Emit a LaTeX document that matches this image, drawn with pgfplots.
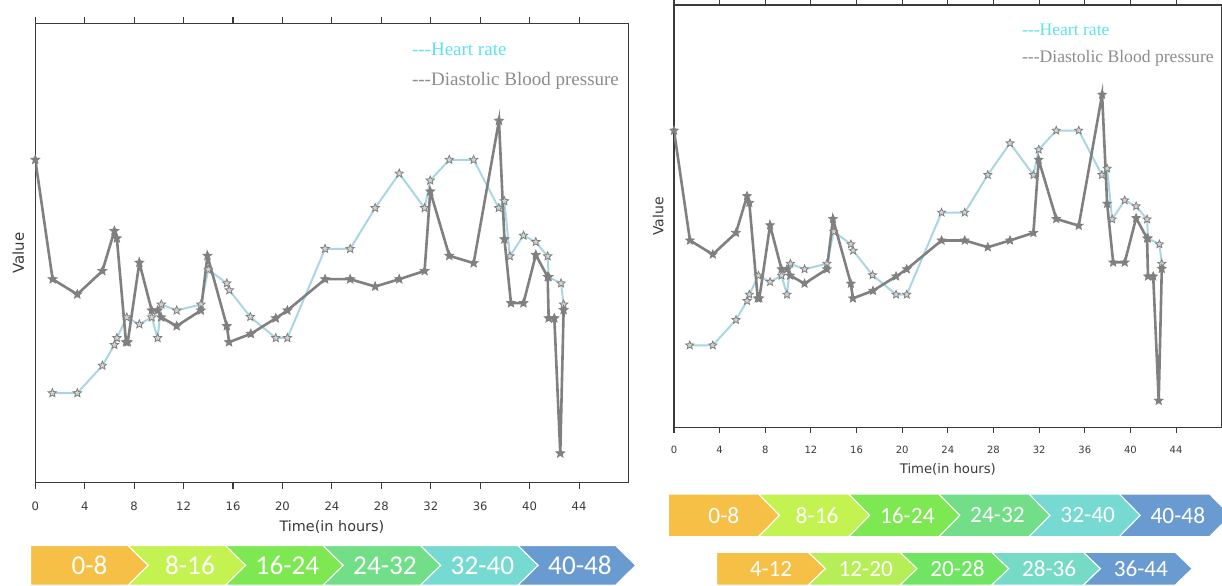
\documentclass[border=0pt]{standalone}
\usepackage{fontspec}
\setmainfont{DejaVu Sans}
\newfontfamily\timesf{Liberation Serif}
\newfontfamily\calib{Carlito}
\usepackage{pgfplots}
\usepackage{pgfplotstable}
\pgfplotsset{compat=1.18}

\definecolor{hrline}{HTML}{A9D6E2}
\definecolor{bpline}{HTML}{808080}
\definecolor{hrtext}{HTML}{5EE2EF}
\definecolor{bptext}{HTML}{8C8C8C}
\definecolor{axcol}{HTML}{3A3A3A}
\definecolor{c1}{HTML}{F6BF45}
\definecolor{c2}{HTML}{C3F251}
\definecolor{c3}{HTML}{7EE852}
\definecolor{c4}{HTML}{72DF88}
\definecolor{c5}{HTML}{76D9D2}
\definecolor{c6}{HTML}{6A9BD0}
\definecolor{d2}{HTML}{B5EE57}
\definecolor{d3}{HTML}{70E463}
\definecolor{d4}{HTML}{76DBC6}

\pgfdeclareplotmark{fstar}{%
 \pgfpathmoveto{\pgfpointpolar{90}{\pgfplotmarksize}}%
 \pgfpathlineto{\pgfpointpolar{126}{0.45\pgfplotmarksize}}%
 \pgfpathlineto{\pgfpointpolar{162}{\pgfplotmarksize}}%
 \pgfpathlineto{\pgfpointpolar{198}{0.45\pgfplotmarksize}}%
 \pgfpathlineto{\pgfpointpolar{234}{\pgfplotmarksize}}%
 \pgfpathlineto{\pgfpointpolar{270}{0.45\pgfplotmarksize}}%
 \pgfpathlineto{\pgfpointpolar{306}{\pgfplotmarksize}}%
 \pgfpathlineto{\pgfpointpolar{342}{0.45\pgfplotmarksize}}%
 \pgfpathlineto{\pgfpointpolar{18}{\pgfplotmarksize}}%
 \pgfpathlineto{\pgfpointpolar{54}{0.45\pgfplotmarksize}}%
 \pgfpathclose\pgfusepathqfillstroke}

\pgfplotstableread{
x y
1.38 19.5
3.40 19.5
5.43 25.5
6.40 30.0
6.60 31.5
7.40 36.0
8.42 34.5
9.42 36.0
9.90 31.5
10.20 38.8
11.44 37.5
13.40 38.8
14.00 46.4
15.50 43.4
15.70 41.9
17.40 36.1
19.46 31.5
20.40 31.5
23.45 50.9
25.48 50.9
27.50 59.8
29.45 67.3
31.50 59.8
31.96 65.8
33.50 70.3
35.47 70.3
37.50 59.8
37.96 61.3
38.40 49.3
39.50 53.8
40.50 52.4
41.46 49.3
41.54 44.8
42.54 43.4
42.75 38.8
}\hrdata

\pgfplotstableread{
x y
0.00 70.3
1.40 44.3
3.40 41.0
5.43 46.1
6.40 54.8
6.60 53.2
7.34 30.6
7.48 30.6
8.42 47.9
9.42 37.5
9.90 37.5
10.18 36.0
11.44 34.1
13.40 37.5
13.93 49.4
15.50 34.1
15.68 30.6
17.44 32.4
19.46 35.8
20.40 37.5
23.45 44.3
25.48 44.3
27.50 42.7
29.45 44.3
31.50 46.1
31.96 63.4
33.50 49.4
35.47 47.8
37.52 78.8
37.96 53.0
38.49 39.1
39.50 39.1
40.50 49.6
41.46 44.8
41.54 35.8
42.00 35.8
42.48 6.4
42.75 37.6
}\bpdata

\pgfplotsset{vitals/.style={
  scale only axis, anchor=south west,
  xmin=0, xmax=48, ymin=0, ymax=100,
  xtick={0,4,...,44}, ytick=\empty,
  tick align=outside, xtick pos=both, xticklabel pos=lower,
  axis line style={draw=axcol, line width=0.65pt},
  tick style={draw=axcol, line width=0.55pt},
  xticklabel style={text=axcol, inner sep=0pt, anchor=center},
  /pgf/number format/assume math mode=true,
  xlabel={Time(in hours)}, ylabel={Value},
  label style={text=axcol},
}}

\newcommand\chev[9]{%
  \pgfmathsetmacro\cm{(#4+#5)/2}%
  \pgfmathsetmacro\cR{#2+#3}%
  \pgfmathsetmacro\cN{#1+#7}%
  \filldraw[fill=#6, draw=white, line width=0.5pt] (#1,#4) -- (#2,#4) -- (\cR,\cm) -- (#2,#5) -- (#1,#5) -- (\cN,\cm) -- cycle;
  \pgfmathsetmacro\cx{(#1+#2+#3)/2+(#7>0)*3}%
  \node[text=white, inner sep=0pt, font=\calib\fontsize{#9}{#9}\selectfont] at (\cx,\cm) {#8};
}

\begin{document}
\begin{tikzpicture}
\useasboundingbox (0,0) rectangle (611pt,-292.5pt);

% left chart
\begin{axis}[vitals, at={(17.65pt,-241.35pt)}, width=296.6pt, height=229.7pt,
  major tick length=3pt,
  xticklabel style={font=\fontsize{5.8pt}{6pt}\selectfont, yshift=-8.65pt},
  xlabel style={font=\fontsize{7.2pt}{8pt}\selectfont, at={(rel axis cs:0.5,-0.0958)}, anchor=center},
  ylabel style={font=\fontsize{7.5pt}{8pt}\selectfont, at={(rel axis cs:-0.0287,0.5)}, anchor=center}]
\addplot[hrline, line width=1pt, mark=fstar, mark size=2.2pt, mark options={fill=white!65!gray, draw=gray, line width=0.4pt}] table {\hrdata};
\addplot[bpline, line width=1.3pt, mark=fstar, mark size=2.3pt, mark options={fill=gray, draw=gray, line width=0.4pt}] table {\bpdata};
\node[anchor=west, inner sep=0pt, text=hrtext, font=\timesf\fontsize{9.5pt}{10pt}\selectfont] at (rel axis cs:0.6345,0.9434) {-{}-{}-Heart rate};
\node[anchor=west, inner sep=0pt, text=bptext, font=\timesf\fontsize{9.5pt}{10pt}\selectfont] at (rel axis cs:0.6345,0.875) {-{}-{}-Diastolic Blood pressure};
\end{axis}

% right chart
\begin{axis}[vitals, at={(337pt,-213.85pt)}, width=273.85pt, height=211.35pt,
  major tick length=2.5pt,
  xticklabel style={font=\fontsize{5pt}{5pt}\selectfont, yshift=-8.65pt},
  xlabel style={font=\fontsize{6.6pt}{7pt}\selectfont, at={(rel axis cs:0.5,-0.0977)}, anchor=center},
  ylabel style={font=\fontsize{7pt}{7pt}\selectfont, at={(rel axis cs:-0.029,0.5)}, anchor=center}]
\addplot[hrline, line width=1pt, mark=fstar, mark size=2.1pt, mark options={fill=white!65!gray, draw=gray, line width=0.4pt}] table {\hrdata};
\addplot[bpline, line width=1.3pt, mark=fstar, mark size=2.2pt, mark options={fill=gray, draw=gray, line width=0.4pt}] table {\bpdata};
\node[anchor=west, inner sep=0pt, text=hrtext, font=\timesf\fontsize{8.8pt}{9pt}\selectfont] at (rel axis cs:0.6348,0.9409) {-{}-{}-Heart rate};
\node[anchor=west, inner sep=0pt, text=bptext, font=\timesf\fontsize{8.8pt}{9pt}\selectfont] at (rel axis cs:0.6348,0.874) {-{}-{}-Diastolic Blood pressure};
\end{axis}

\begin{scope}[x=0.5pt,y=-0.5pt]
% left band
\chev{30.7}{128.2}{20}{545.7}{585}{c1}{0}{0-8}{13.6pt}
\chev{128.2}{225.7}{20}{545.7}{585}{c2}{20}{8-16}{13.6pt}
\chev{225.7}{323.2}{20}{545.7}{585}{c3}{20}{16-24}{13.6pt}
\chev{323.2}{420.7}{20}{545.7}{585}{c4}{20}{24-32}{13.6pt}
\chev{420.7}{518.2}{20}{545.7}{585}{c5}{20}{32-40}{13.6pt}
\chev{518.2}{615.7}{20}{545.7}{585}{c6}{20}{40-48}{13.6pt}
% right band row 1
\chev{668.3}{758.5}{21}{494}{536.7}{c1}{0}{0-8}{11.7pt}
\chev{758.5}{848.7}{21}{494}{536.7}{c2}{21}{8-16}{11.7pt}
\chev{848.7}{938.9}{21}{494}{536.7}{c3}{21}{16-24}{11.7pt}
\chev{938.9}{1029.1}{21}{494}{536.7}{c4}{21}{24-32}{11.7pt}
\chev{1029.1}{1119.3}{21}{494}{536.7}{c5}{21}{32-40}{11.7pt}
\chev{1119.3}{1209.5}{21}{494}{536.7}{c6}{21}{40-48}{11.7pt}
% right band row 2
\chev{716.7}{808.4}{17}{552.3}{585}{c1}{0}{4-12}{11.6pt}
\chev{808.4}{900.1}{17}{552.3}{585}{d2}{17}{12-20}{11.6pt}
\chev{900.1}{991.8}{17}{552.3}{585}{d3}{17}{20-28}{11.6pt}
\chev{991.8}{1083.5}{17}{552.3}{585}{d4}{17}{28-36}{11.6pt}
\chev{1083.5}{1175.2}{17}{552.3}{585}{c6}{17}{36-44}{11.6pt}
\end{scope}
\end{tikzpicture}
\end{document}
